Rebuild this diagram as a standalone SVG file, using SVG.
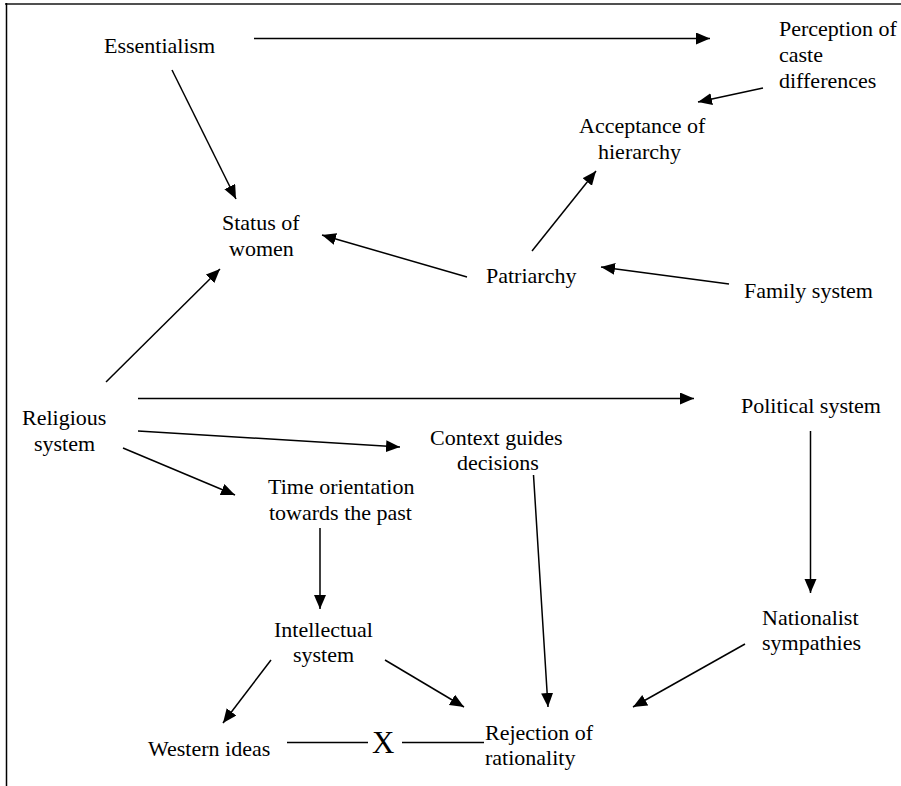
<svg xmlns="http://www.w3.org/2000/svg" width="901" height="786" viewBox="0 0 901 786">
<defs>
<style>
.t text { font-size: 22px; fill: #000; }
.t text.x { font-size: 31px; }
.c { stroke: #000; stroke-width: 1.5; fill: none; }
.a { marker-end: url(#arr); }
</style>
<marker id="arr" markerUnits="userSpaceOnUse" markerWidth="15" markerHeight="13" refX="14" refY="6" orient="auto">
<path d="M0,0 L14,6 L0,12 z" fill="#000"/>
</marker>
</defs>
<rect width="901" height="786" fill="#fff"/>
<g id="frame">
<line x1="5" y1="4" x2="901" y2="4" stroke="#505050" stroke-width="2"/>
<line x1="6.5" y1="3" x2="6.5" y2="786" stroke="#000" stroke-width="1.5"/>
</g>
<g id="connectors">
<line class="c a" x1="254" y1="38.5" x2="710" y2="38.5"/>
<line class="c a" x1="172" y1="70" x2="236" y2="199"/>
<line class="c a" x1="763" y1="88" x2="698" y2="102"/>
<line class="c a" x1="532" y1="251" x2="596" y2="171"/>
<line class="c a" x1="467" y1="277" x2="322" y2="235"/>
<line class="c a" x1="729" y1="284" x2="601" y2="267"/>
<line class="c a" x1="106" y1="382" x2="220" y2="269"/>
<line class="c a" x1="138" y1="398.5" x2="694" y2="398.5"/>
<line class="c a" x1="138" y1="431" x2="400" y2="447"/>
<line class="c a" x1="123" y1="448" x2="235" y2="495"/>
<line class="c a" x1="320" y1="528" x2="320" y2="609"/>
<line class="c a" x1="533.5" y1="475" x2="548" y2="707"/>
<line class="c a" x1="810.5" y1="431" x2="810.5" y2="593"/>
<line class="c a" x1="745" y1="644" x2="633" y2="707"/>
<line class="c a" x1="271" y1="660" x2="223" y2="723"/>
<line class="c a" x1="385" y1="660" x2="464" y2="707"/>
<line class="c" x1="287" y1="742.5" x2="368" y2="742.5"/>
<line class="c" x1="402" y1="742.5" x2="484" y2="742.5"/>
</g>
<g class="t" font-family="'Liberation Serif', 'Times New Roman', 'DejaVu Serif', serif">
<g id="essentialism"><text x="104" y="53">Essentialism</text></g>
<g id="perception"><text x="779" y="36">Perception of</text><text x="779" y="62">caste</text><text x="779" y="88">differences</text></g>
<g id="acceptance"><text x="579" y="133">Acceptance of</text><text x="598" y="159">hierarchy</text></g>
<g id="status"><text x="222" y="230">Status of</text><text x="229" y="256">women</text></g>
<g id="patriarchy"><text x="486" y="283">Patriarchy</text></g>
<g id="family"><text x="744" y="298">Family system</text></g>
<g id="religious"><text x="22" y="425">Religious</text><text x="34" y="451">system</text></g>
<g id="political"><text x="741" y="413">Political system</text></g>
<g id="context"><text x="430" y="445">Context guides</text><text x="457" y="470">decisions</text></g>
<g id="time"><text x="268" y="494">Time orientation</text><text x="269" y="520">towards the past</text></g>
<g id="intellectual"><text x="274" y="637">Intellectual</text><text x="293" y="662">system</text></g>
<g id="nationalist"><text x="762" y="625">Nationalist</text><text x="762" y="650">sympathies</text></g>
<g id="western"><text x="148" y="756">Western ideas</text></g>
<g id="xmark"><text class="x" x="372" y="753">X</text></g>
<g id="rejection"><text x="485" y="740">Rejection of</text><text x="485" y="765">rationality</text></g>
</g>
</svg>
